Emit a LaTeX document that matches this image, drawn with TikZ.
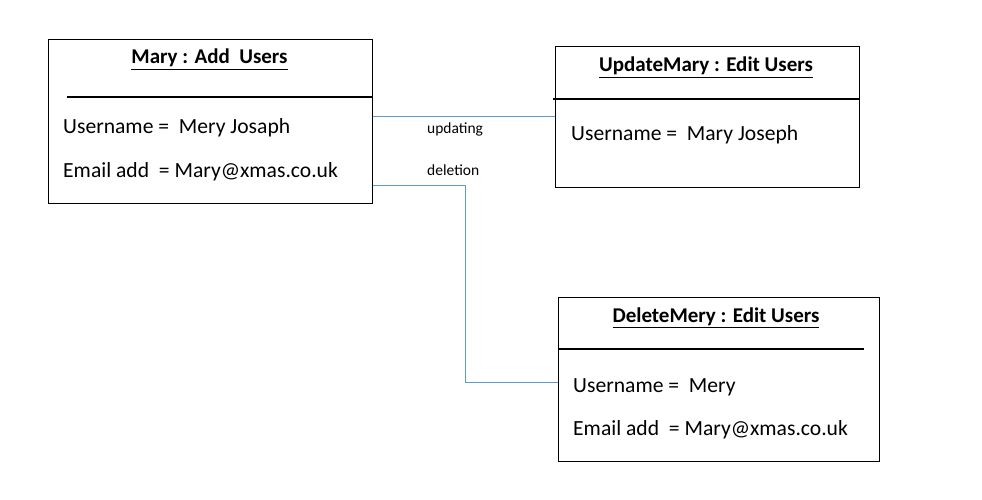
\documentclass[tikz,border=0pt]{standalone}
\usepackage{fontspec}
\setmainfont{Carlito}
\begin{document}
\begin{tikzpicture}[x=1pt,y=-1pt,
  umlbox/.style={draw=black,line width=1.3pt,inner sep=0pt,anchor=north west},
  divider/.style={line width=2.4pt,black},
  conn/.style={draw={rgb,255:red,91;green,155;blue,213},line width=1pt},
  ttl/.style={font=\bfseries\fontsize{21}{24}\selectfont,anchor=base,inner sep=0pt},
  attr/.style={font=\fontsize{21.6}{24}\selectfont,anchor=base west,inner sep=0pt},
  lbl/.style={font=\fontsize{15.5}{18}\selectfont,anchor=base west,inner sep=0pt}]
\useasboundingbox (0,0) rectangle (982,500);
% Box 1
\node[umlbox,minimum width=324pt,minimum height=164pt] (a) at (48,39) {};
\draw[divider] (67,97) -- (a.east |- 0,97);
\node[ttl] (at) at (209.5,64) {\underline{Mary : Add\ \ Users}};
\node[attr] (a1) at (63,133) {Username =\ \ Mery Josaph};
\node[attr] (a2) at (63,177) {Email add\ \ = Mary@xmas.co.uk};
% Box 2
\node[umlbox,minimum width=304pt,minimum height=141pt] (b) at (555,46) {};
\draw[divider] (553,99) -- (b.east |- 0,99);
\node[ttl] (bt) at (706,72) {\underline{UpdateMary : Edit Users}};
\node[attr] (b1) at (571,140) {Username =\ \ Mary Joseph};
% Box 3
\node[umlbox,minimum width=321pt,minimum height=164pt] (c) at (558,297) {};
\draw[divider] (c.west |- 0,349) -- (864,349);
\node[ttl] (ct) at (716,322) {\underline{DeleteMery : Edit Users}};
\node[attr] (c1) at (573,392) {Username =\ \ Mery};
\node[attr] (c2) at (573,435) {Email add\ \ = Mary@xmas.co.uk};
% connectors
\draw[conn] (a.east |- 0,117) -- (b.west |- 0,117);
\coordinate (bend) at (465,185);
\draw[conn] (a.east |- bend) -- (bend) |- (c.west |- 0,382);
\node[lbl] (lu) at (427,134) {updating};
\node[lbl] (ld) at (427,175) {deletion};
\end{tikzpicture}
\end{document}
